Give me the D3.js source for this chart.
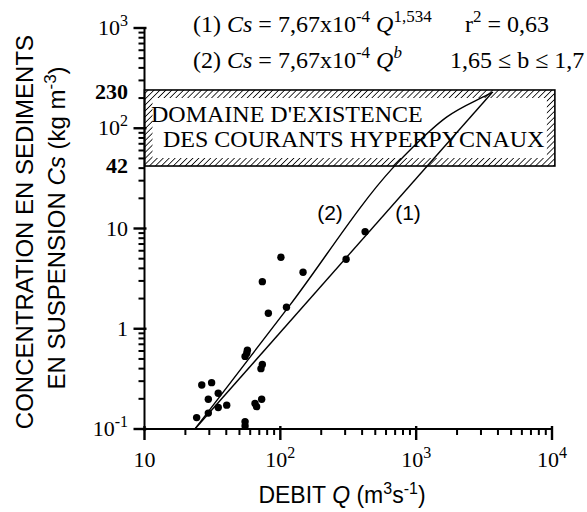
<!DOCTYPE html>
<html>
<head>
<meta charset="utf-8">
<script src="https://cdn.jsdelivr.net/npm/d3@7"></script>
<style>
  body { margin: 0; background: #fff; }
  svg { display: block; }
</style>
</head>
<body>
<div id="chart"></div>
<script>
// measured points, debit Q (m3/s) and concentration Cs (kg/m3)
const obsQ  = [101, 73.7, 147, 81.6, 111, 305, 421,
               57.2, 56.6, 55, 73.7, 72,
               26.4, 31.2, 29.5, 34.9, 40.3, 34.9, 29.5, 24.2, 55, 55, 65.1, 72.9, 66.9];
const obsCs = [5.16, 2.95, 3.66, 1.43, 1.64, 4.93, 9.3,
               0.61, 0.57, 0.53, 0.44, 0.40,
               0.275, 0.29, 0.198, 0.227, 0.173, 0.164, 0.144, 0.13, 0.118, 0.107, 0.18, 0.198, 0.167];

// regression (1) and envelope (2)
const line1Q  = [23.5, 3600];
const line1Cs = [0.1, 225];
const line2Q  = [23.5, 117.6, 671, 948, 1675, 3113, 3680];
const line2Cs = [0.1, 1.72, 40, 65, 129, 205, 229];

// hyperpycnal domain
const boxQ  = [10, 10500];
const boxCs = [42, 230];

const xMajor = [10, 100, 1000, 10000];
const yMajor = [0.1, 1, 10, 100, 1000];
const xLabels = [["10", ""], ["10", "2"], ["10", "3"], ["10", "4"]];
const yLabels = [
  { v: 1000, base: "10", sup: "3" },
  { v: 230, base: "230", sup: "", bold: true },
  { v: 100, base: "10", sup: "2" },
  { v: 42, base: "42", sup: "", bold: true },
  { v: 10, base: "10", sup: "" },
  { v: 1, base: "1", sup: "" },
  { v: 0.1, base: "10", sup: "-1" }
];

const width = 587, height = 512;
const serif = "'Liberation Serif', 'Times New Roman', serif";
const sans = "'Liberation Sans', Arial, sans-serif";

const svg = d3.select("#chart").append("svg")
  .attr("width", width)
  .attr("height", height);

const x = d3.scaleLog().domain([10, 10000]).range([144.5, 552]);
const y = d3.scaleLog().domain([0.1, 1000]).range([429, 28]);

function minorTicks(lo, hi) {
  const out = [];
  for (let p = lo; p < hi; p *= 10) {
    for (let k = 2; k <= 9; k++) out.push(p * k);
  }
  return out;
}

// hatch pattern
const defs = svg.append("defs");
defs.append("pattern")
  .attr("id", "hatch")
  .attr("patternUnits", "userSpaceOnUse")
  .attr("width", 4.2)
  .attr("height", 4.2)
  .attr("patternTransform", "rotate(45)")
  .append("line")
  .attr("x1", 0).attr("y1", 0)
  .attr("x2", 0).attr("y2", 4.2)
  .attr("stroke", "#000")
  .attr("stroke-width", 1.6);

// box
const bx0 = x(boxQ[0]), bx1 = x(boxQ[1]);
const by0 = y(boxCs[1]) - 2, by1 = y(boxCs[0]);
svg.append("rect")
  .attr("x", bx0).attr("y", by0)
  .attr("width", bx1 - bx0).attr("height", by1 - by0)
  .attr("fill", "url(#hatch)");
svg.append("rect")
  .attr("x", bx0 + 8).attr("y", by0 + 8)
  .attr("width", bx1 - bx0 - 16).attr("height", by1 - by0 - 16)
  .attr("fill", "#fff");
svg.append("rect")
  .attr("x", bx0).attr("y", by0)
  .attr("width", bx1 - bx0).attr("height", by1 - by0)
  .attr("fill", "none")
  .attr("stroke", "#000")
  .attr("stroke-width", 1.6);

svg.append("text")
  .attr("x", 151).attr("y", 122)
  .style("font-family", serif).style("font-size", "24px")
  .text("DOMAINE D'EXISTENCE");
svg.append("text")
  .attr("x", 163).attr("y", 147)
  .style("font-family", serif).style("font-size", "24px")
  .text("DES COURANTS HYPERPYCNAUX");

// axes: lines and ticks built from the scales
const x0 = x(10), y0 = y(0.1);
const axisPath = d3.path();
axisPath.moveTo(x0, y(1000)); axisPath.lineTo(x0, y0 + 2);
axisPath.moveTo(x0 - 3, y0); axisPath.lineTo(x(10000), y0);
svg.append("path")
  .attr("d", axisPath.toString())
  .attr("fill", "none").attr("stroke", "#000").attr("stroke-width", 2);

// ticks as small filled rects
const tickG = svg.append("g").attr("fill", "#000");
tickG.selectAll("rect.xmin")
  .data(minorTicks(10, 10000))
  .join("rect")
  .attr("class", "xmin")
  .attr("x", d => x(d) - 1).attr("y", y0)
  .attr("width", 2).attr("height", 6);
tickG.selectAll("rect.xmaj")
  .data(xMajor)
  .join("rect")
  .attr("class", "xmaj")
  .attr("x", d => x(d) - 1.2).attr("y", y0 - 3)
  .attr("width", 2.4).attr("height", 14);
tickG.selectAll("rect.ymin")
  .data(minorTicks(0.1, 1000))
  .join("rect")
  .attr("class", "ymin")
  .attr("x", x0 - 6).attr("y", d => y(d) - 1)
  .attr("width", 6).attr("height", 2);
tickG.selectAll("rect.ymaj")
  .data(yMajor)
  .join("rect")
  .attr("class", "ymaj")
  .attr("x", x0 - 11).attr("y", d => y(d) - 1.2)
  .attr("width", 13).attr("height", 2.4);

// tick labels
xMajor.forEach((v, i) => {
  const t = svg.append("text")
    .attr("x", x(v)).attr("y", 467)
    .attr("text-anchor", "middle")
    .style("font-family", serif).style("font-size", "22px");
  t.append("tspan").text(xLabels[i][0]);
  if (xLabels[i][1]) t.append("tspan").attr("dy", -9).style("font-size", "16px").text(xLabels[i][1]);
});

yLabels.forEach(d => {
  const t = svg.append("text")
    .attr("x", 128).attr("y", y(d.v) + 7)
    .attr("text-anchor", "end")
    .style("font-family", serif).style("font-size", "22px")
    .style("font-weight", d.bold ? "bold" : "normal");
  t.append("tspan").text(d.base);
  if (d.sup) t.append("tspan").attr("dy", -9).style("font-size", "16px").text(d.sup);
});

// fitted curves
const lineGen = d3.line()
  .x(d => x(d[0]))
  .y(d => y(d[1]));

svg.append("path")
  .datum(line1Q.map((q, i) => [q, line1Cs[i]]))
  .attr("fill", "none").attr("stroke", "#000").attr("stroke-width", 1.4)
  .attr("d", lineGen);

svg.append("path")
  .datum(line2Q.map((q, i) => [q, line2Cs[i]]))
  .attr("fill", "none").attr("stroke", "#000").attr("stroke-width", 1.4)
  .attr("d", lineGen.curve(d3.curveMonotoneX));

svg.append("text")
  .attr("x", 330).attr("y", 220)
  .attr("text-anchor", "middle")
  .style("font-family", sans).style("font-size", "21px")
  .text("(2)");
svg.append("text")
  .attr("x", 408).attr("y", 220)
  .attr("text-anchor", "middle")
  .style("font-family", sans).style("font-size", "21px")
  .text("(1)");

// observations
svg.append("g").selectAll("circle")
  .data(obsQ.map((q, i) => [q, obsCs[i]]))
  .join("circle")
  .attr("cx", d => x(d[0]))
  .attr("cy", d => y(d[1]))
  .attr("r", 3.7)
  .attr("fill", "#000");

// equations
function eq(xx, yy, parts) {
  const t = svg.append("text")
    .attr("x", xx).attr("y", yy)
    .style("font-family", serif).style("font-size", "24px");
  let shift = 0;
  parts.forEach(p => {
    const s = t.append("tspan").text(p.t);
    if (p.i) s.style("font-style", "italic");
    const target = p.s ? -10 : 0;
    if (target !== shift) { s.attr("dy", target - shift); shift = target; }
    if (p.s) s.style("font-size", "17px");
  });
  return t;
}
eq(193, 32, [{ t: "(1) " }, { t: "Cs", i: 1 }, { t: " = 7,67x10" }, { t: "-4", s: 1 }, { t: " " }, { t: "Q", i: 1 }, { t: "1,534", s: 1 }]);
eq(193, 68, [{ t: "(2) " }, { t: "Cs", i: 1 }, { t: " = 7,67x10" }, { t: "-4", s: 1 }, { t: " " }, { t: "Q", i: 1 }, { t: "b", s: 1, i: 1 }]);
eq(465, 32, [{ t: "r" }, { t: "2", s: 1 }, { t: " = 0,63" }]);
eq(450, 68, [{ t: "1,65 \u2264 b \u2264 1,7" }]);

// axis titles
const xt = svg.append("text")
  .attr("x", 342).attr("y", 503)
  .attr("text-anchor", "middle")
  .style("font-family", sans).style("font-size", "23px");
xt.append("tspan").text("DEBIT ");
xt.append("tspan").style("font-style", "italic").text("Q");
xt.append("tspan").text(" (m");
xt.append("tspan").attr("dy", -9).style("font-size", "16px").text("3");
xt.append("tspan").attr("dy", 9).text("s");
xt.append("tspan").attr("dy", -9).style("font-size", "16px").text("-1");
xt.append("tspan").attr("dy", 9).text(")");

svg.append("text")
  .attr("transform", "translate(33,232) rotate(-90)")
  .attr("text-anchor", "middle")
  .style("font-family", sans).style("font-size", "24px")
  .text("CONCENTRATION EN SEDIMENTS");

const yt2 = svg.append("text")
  .attr("transform", "translate(65,228) rotate(-90)")
  .attr("text-anchor", "middle")
  .style("font-family", sans).style("font-size", "24px");
yt2.append("tspan").text("EN SUSPENSION ");
yt2.append("tspan").style("font-style", "italic").text("Cs");
yt2.append("tspan").text(" (kg m");
yt2.append("tspan").attr("dy", -9).style("font-size", "17px").text("-3");
yt2.append("tspan").attr("dy", 9).text(")");
</script>
</body>
</html>
